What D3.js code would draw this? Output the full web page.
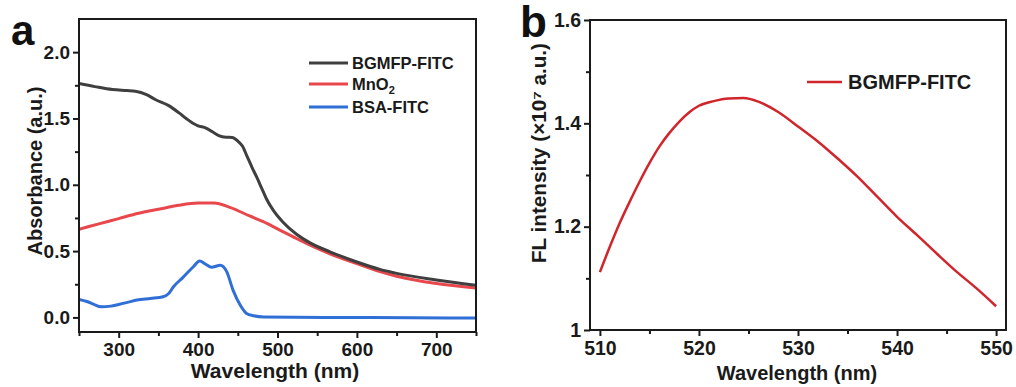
<!DOCTYPE html>
<html>
<head>
<meta charset="utf-8">
<script src="https://cdn.jsdelivr.net/npm/d3@7"></script>
<style>
  html, body { margin: 0; padding: 0; background: #fff; }
  svg { display: block; font-family: "Liberation Sans", Arial, sans-serif; font-weight: bold; }
</style>
</head>
<body>
<svg id="chart" width="1016" height="387"></svg>
<script>
// ---------- Panel a data: UV-vis absorbance ----------
const bgmfpWl  = [250,270,292,310,321,335,346,363,376,385,393,400,410,418,426,435,443,450,456,462,468,474,480,486,495,507,524,541,566,600,629,650,700,750];
const bgmfpAbs = [1.763,1.74,1.718,1.71,1.705,1.68,1.643,1.597,1.542,1.50,1.466,1.445,1.428,1.40,1.37,1.358,1.357,1.33,1.29,1.21,1.13,1.055,0.975,0.895,0.805,0.718,0.627,0.562,0.495,0.418,0.362,0.332,0.282,0.242];

const mno2Wl  = [250,275,300,325,350,375,400,420,440,465,482,500,524,550,566,600,629,650,700,750];
const mno2Abs = [0.665,0.705,0.745,0.785,0.815,0.845,0.862,0.862,0.83,0.765,0.722,0.668,0.595,0.52,0.48,0.405,0.345,0.31,0.255,0.222];

const bsaWl  = [250,260,268,278,290,300,312,323,340,356,363,369,381,394,402,409,417,428,436,444,453,461,470,483,560,670,750];
const bsaAbs = [0.136,0.12,0.1,0.08,0.085,0.098,0.115,0.131,0.143,0.156,0.18,0.231,0.302,0.382,0.425,0.403,0.378,0.393,0.345,0.206,0.093,0.03,0.012,0.003,0.0,-0.002,-0.005];

const aXTicks = [300,400,500,600,700];
const aYTicks = [0.0,0.5,1.0,1.5,2.0];
const aSeriesNames = ["BGMFP-FITC","MnO2","BSA-FITC"];

// ---------- Panel b data: fluorescence ----------
const flWl  = [510,511,512,513,514,515,516,517,518,519,520,521.5,523,524.5,526,528,530,532,534,536,538,540,542,544,546,548,550];
const flInt = [1.112,1.161,1.207,1.248,1.287,1.323,1.355,1.381,1.403,1.421,1.434,1.443,1.448,1.449,1.442,1.422,1.394,1.365,1.332,1.297,1.258,1.219,1.184,1.148,1.113,1.081,1.046];
const bXTicks = [510,520,530,540,550];
const bYTicks = [1.0,1.2,1.4,1.6];

const svg = d3.select("#chart");
const AX = "#1a1a1a";

function frame(g, x, y, xMajor, xMinor, yMajor, yMinor, xFmt, yFmt, fs) {
  const [x0, x1] = x.range();
  const [y0, y1] = y.range(); // y0 bottom, y1 top
  g.append("g").attr("transform", `translate(0,${y0})`)
    .call(d3.axisBottom(x).tickValues(xMinor).tickSize(4).tickFormat(""))
    .call(s => s.select(".domain").remove());
  g.append("g").attr("transform", `translate(${x0},0)`)
    .call(d3.axisLeft(y).tickValues(yMinor).tickSize(4).tickFormat(""))
    .call(s => s.select(".domain").remove());
  const xa = g.append("g").attr("transform", `translate(0,${y0})`)
    .call(d3.axisBottom(x).tickValues(xMajor).tickSize(6).tickPadding(5).tickFormat(xFmt));
  xa.select(".domain").remove();
  const ya = g.append("g").attr("transform", `translate(${x0},0)`)
    .call(d3.axisLeft(y).tickValues(yMajor).tickSize(6).tickPadding(3).tickFormat(yFmt));
  ya.select(".domain").remove();
  g.selectAll(".tick line").attr("stroke", AX).attr("stroke-width", 2);
  g.selectAll(".tick text").attr("fill", AX).attr("font-weight", "bold")
    .attr("font-family", "'Liberation Sans', Arial, sans-serif").attr("font-size", fs);
  g.append("rect").attr("x", x0).attr("y", y1).attr("width", x1 - x0).attr("height", y0 - y1)
    .attr("fill", "none").attr("stroke", AX).attr("stroke-width", 2);
}

// ================= Panel a =================
const ga = svg.append("g");
const xa = d3.scaleLinear().domain([250, 750]).range([79, 476]);
const ya = d3.scaleLinear().domain([-0.11, 2.25]).range([332, 19]);

const lineA = d3.line().x(d => xa(d[0])).y(d => ya(d[1])).curve(d3.curveMonotoneX);
const seriesA = [
  { name: aSeriesNames[1], wl: mno2Wl, v: mno2Abs, color: "#e8474c" },
  { name: aSeriesNames[0], wl: bgmfpWl, v: bgmfpAbs, color: "#3f3f3f" },
  { name: aSeriesNames[2], wl: bsaWl, v: bsaAbs, color: "#2f6fd6" }
];
svg.append("clipPath").attr("id", "clipA").append("rect")
  .attr("x", 79).attr("y", 19).attr("width", 397).attr("height", 313);
seriesA.forEach(s => {
  ga.append("path").datum(s.wl.map((w, i) => [w, s.v[i]]))
    .attr("d", lineA).attr("fill", "none").attr("stroke", s.color)
    .attr("stroke-width", 3).attr("stroke-linejoin", "round").attr("clip-path", "url(#clipA)");
});

frame(ga, xa, ya, aXTicks, [250,350,450,550,650,750], aYTicks, [0.25,0.75,1.25,1.75],
  d3.format("d"), d3.format(".1f"), 19);

ga.append("text").attr("x", 275).attr("y", 378).attr("text-anchor", "middle")
  .style("font-size", "21px").attr("fill", AX).text("Wavelength (nm)");
ga.append("text").attr("transform", "translate(42,171) rotate(-90)").attr("text-anchor", "middle")
  .style("font-size", "20px").attr("fill", AX).text("Absorbance (a.u.)");
ga.append("text").attr("x", 11).attr("y", 45).style("font-size", "42px").attr("fill", "#111").text("a");

// legend a
const legA = [
  { name: aSeriesNames[0], color: "#3f3f3f", y: 63 },
  { name: aSeriesNames[1], color: "#e8474c", y: 84 },
  { name: aSeriesNames[2], color: "#2f6fd6", y: 107 }
];
legA.forEach(l => {
  ga.append("line").attr("x1", 309).attr("x2", 348).attr("y1", l.y).attr("y2", l.y)
    .attr("stroke", l.color).attr("stroke-width", 3);
  const t = ga.append("text").attr("x", 352).attr("y", l.y + 6).style("font-size", "16.5px").attr("fill", AX);
  if (l.name === "MnO2") {
    t.append("tspan").text("MnO");
    t.append("tspan").attr("dy", 4).style("font-size", "11px").text("2");
  } else {
    t.text(l.name);
  }
});

// ================= Panel b =================
const gb = svg.append("g");
const xb = d3.scaleLinear().domain([509, 551]).range([590, 1006]);
const yb = d3.scaleLinear().domain([1.0, 1.6]).range([330, 20]);
const lineB = d3.line().x(d => xb(d[0])).y(d => yb(d[1])).curve(d3.curveMonotoneX);
gb.append("path").datum(flWl.map((w, i) => [w, flInt[i]]))
  .attr("d", lineB).attr("fill", "none").attr("stroke", "#d0262b").attr("stroke-width", 2.5);

frame(gb, xb, yb, bXTicks, [515,525,535,545], bYTicks, [1.1,1.3,1.5],
  d3.format("d"), d => (d === 1 ? "1" : d3.format(".1f")(d)), 19.5);

gb.append("text").attr("x", 797).attr("y", 380).attr("text-anchor", "middle")
  .style("font-size", "20px").attr("fill", AX).text("Wavelength (nm)");
gb.append("text").attr("transform", "translate(546,153) rotate(-90)")
  .attr("x", 0).attr("y", 0).attr("text-anchor", "middle")
  .attr("textLength", 220).attr("lengthAdjust", "spacingAndGlyphs")
  .style("font-size", "19.5px").attr("fill", AX)
  .text("FL intensity (×10\u2077 a.u.)");

gb.append("text").attr("x", 520).attr("y", 37).style("font-size", "44px").attr("fill", "#111").text("b");

gb.append("line").attr("x1", 807).attr("x2", 842).attr("y1", 82).attr("y2", 82)
  .attr("stroke", "#d0262b").attr("stroke-width", 2.5);
gb.append("text").attr("x", 848).attr("y", 89).style("font-size", "20px").attr("fill", AX).text("BGMFP-FITC");
</script>
</body>
</html>
